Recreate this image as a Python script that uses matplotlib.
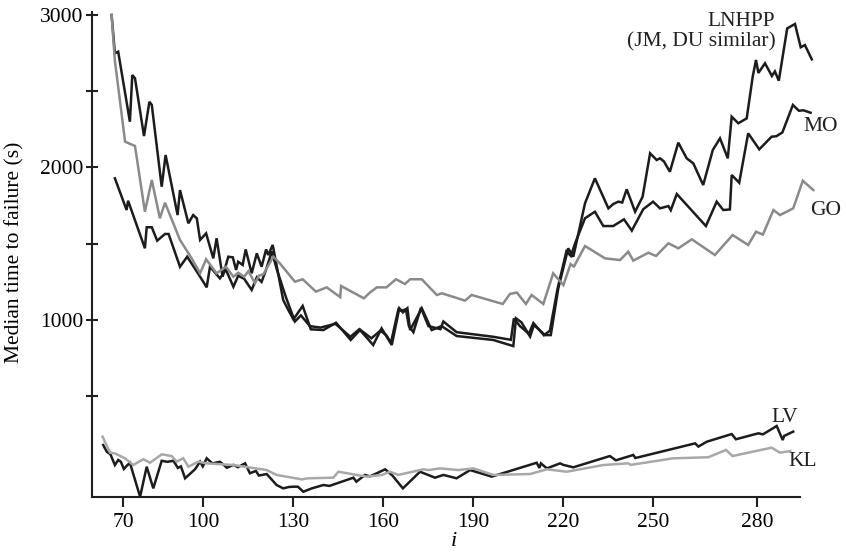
import matplotlib
matplotlib.use("Agg")
import matplotlib.pyplot as plt

# --- data (i, median time to failure) ---
lnhpp_i = [69.4, 70.5, 71.6, 75.5, 76.3, 77.2, 80.2, 82.0, 82.8, 86.1,
           87.4, 91.4, 92.2, 95.0, 96.6, 97.8, 98.9, 100.9, 103.3, 104.4,
           106.4, 108.3, 109.8, 110.9, 111.6, 113.1, 114.1, 116.1, 117.8, 119.4,
           120.9, 121.6, 123.1, 126.6, 128.3, 130.0, 133.1, 135.8, 140.0, 144.2,
           149.1, 152.2, 156.6, 159.4, 162.8, 165.3, 166.5, 168.0, 168.9, 172.8,
           176.1, 179.4, 184.4, 196.6, 203.3, 204.2, 206.0, 208.9, 210.2, 213.9,
           215.8, 218.3, 221.6, 223.3, 227.2, 230.5, 235.0, 236.6, 238.3, 239.6,
           241.1, 243.9, 246.4, 248.9, 251.1, 252.2, 253.5, 255.5, 258.3, 261.1,
           263.3, 266.6, 269.8, 272.2, 274.8, 276.1, 278.3, 281.1, 283.1, 284.2,
           285.0, 287.2, 289.5, 290.5, 291.8, 294.6, 297.2, 299.1, 300.5, 302.8]
lnhpp_t = [3000, 2749, 2759, 2300, 2606, 2585, 2206, 2431, 2410, 1874,
           2082, 1688, 1852, 1634, 1688, 1667, 1525, 1568, 1404, 1536,
           1284, 1415, 1411, 1328, 1382, 1361, 1463, 1306, 1437, 1349,
           1463, 1426, 1492, 1131, 1066, 1004, 1092, 939, 934, 982,
           869, 934, 836, 945, 836, 1077, 1050, 1077, 934, 1077,
           934, 960, 895, 869, 829, 1011, 985, 891, 967, 901,
           901, 1208, 1470, 1415, 1765, 1929, 1732, 1760, 1776, 1770,
           1857, 1710, 1808, 2093, 2049, 2060, 2040, 1972, 2163, 2060,
           2027, 1885, 2115, 2191, 2060, 2333, 2290, 2322, 2595, 2705,
           2620, 2683, 2600, 2630, 2569, 2912, 2941, 2788, 2803, 2709]

mo_i = [70.5, 74.4, 74.9, 80.5, 81.1, 82.8, 84.6, 87.2, 88.4, 92.2,
        94.6, 98.9, 101.1, 102.2, 105.5, 107.5, 110.0, 111.6, 113.6, 116.1,
        117.8, 119.4, 120.9, 122.8, 124.5, 127.5, 130.5, 132.5, 135.5, 139.0,
        144.0, 149.0, 152.0, 156.0, 159.0, 161.0, 162.5, 165.0, 166.0, 167.5,
        168.5, 170.0, 172.5, 175.0, 179.0, 180.0, 184.4, 196.6, 202.5, 203.5,
        205.5, 208.5, 210.0, 213.5, 215.5, 218.0, 221.0, 222.5, 223.9, 227.2,
        230.5, 233.3, 236.6, 240.2, 242.8, 246.6, 249.9, 252.2, 255.0, 255.8,
        257.8, 267.5, 271.1, 273.3, 275.5, 276.1, 278.6, 281.6, 285.3, 289.4,
        291.0, 293.0, 296.5, 298.5, 300.0, 302.4]
mo_t = [1929, 1721, 1782, 1470, 1608, 1608, 1520, 1564, 1564, 1349,
        1415, 1284, 1214, 1349, 1273, 1330, 1218, 1290, 1270, 1197,
        1280, 1250, 1330, 1450, 1330, 1150, 990, 1030, 960, 950,
        975, 890, 940, 880, 930, 900, 850, 1070, 1060, 1070,
        960, 920, 1080, 960, 940, 990, 920, 890, 870, 1010,
        960, 910, 980, 900, 930, 1200, 1450, 1420, 1503, 1667,
        1710, 1616, 1616, 1660, 1586, 1726, 1776, 1732, 1747, 1720,
        1826, 1616, 1776, 1721, 1725, 1951, 1900, 2224, 2119, 2202,
        2205, 2230, 2410, 2372, 2375, 2359]

go_i = [69.4, 70.5, 73.9, 77.2, 80.5, 82.8, 85.5, 87.2, 92.2, 96.1,
        98.9, 100.9, 104.4, 107.5, 110.0, 111.6, 113.6, 115.0, 117.2, 118.5,
        120.0, 123.3, 125.5, 130.5, 133.1, 137.5, 141.1, 145.6, 145.9, 153.5,
        155.5, 157.8, 161.0, 164.2, 167.2, 168.9, 172.8, 177.8, 179.5, 187.2,
        189.4, 199.8, 202.2, 204.5, 207.5, 209.4, 213.3, 216.6, 220.0, 222.4,
        223.5, 227.2, 233.9, 238.9, 241.6, 243.3, 248.3, 250.9, 255.0, 258.3,
        262.8, 270.5, 276.4, 281.6, 284.2, 286.5, 290.0, 292.2, 296.6, 299.8,
        303.3]
go_t = [3000, 2700, 2169, 2141, 1710, 1918, 1667, 1769, 1525, 1404,
        1306, 1398, 1306, 1349, 1284, 1310, 1284, 1320, 1241, 1290,
        1300, 1415, 1371, 1251, 1267, 1186, 1214, 1150, 1223, 1142,
        1180, 1214, 1214, 1267, 1236, 1267, 1267, 1164, 1175, 1127,
        1164, 1105, 1171, 1180, 1105, 1164, 1105, 1306, 1229, 1367,
        1350, 1485, 1404, 1393, 1448, 1389, 1441, 1420, 1503, 1470,
        1529, 1426, 1557, 1492, 1579, 1560, 1721, 1688, 1732, 1913,
        1852]

lv_i = [66.6, 67.8, 69.0, 70.5, 71.6, 72.5, 73.5, 74.5, 75.5, 78.9,
        81.1, 83.3, 86.1, 88.0, 90.0, 91.5, 92.5, 93.9, 97.2, 98.9,
        99.8, 101.1, 103.0, 105.5, 106.5, 107.8, 110.0, 111.5, 113.9, 115.5,
        117.5, 118.5, 121.1, 124.4, 126.6, 128.5, 130.0, 131.5, 133.3, 136.0,
        140.0, 142.0, 150.0, 151.0, 153.9, 155.5, 157.8, 160.6, 163.0, 166.5,
        172.2, 177.2, 180.0, 184.4, 188.9, 196.1, 211.1, 212.0, 212.5, 214.5,
        218.9, 220.0, 223.3, 235.5, 237.5, 243.3, 244.0, 263.9, 265.0, 267.8,
        276.1, 277.5, 285.0, 286.5, 291.1, 293.1, 293.6, 296.6]
lv_t = [180, 136, 120, 49, 82, 70, 23, 45, 64, -159,
        38, -104, 77, 70, 77, 30, 40, -38, 21, 71,
        40, 93, 60, 70, 55, 31, 50, 35, 60, -5,
        10, -20, -10, -82, -104, -95, -93, -93, -126, -105,
        -82, -88, -34, -60, -16, -25, -5, 21, -20, -104,
        5, -34, -16, -38, 16, -27, 64, 30, 60, 27,
        60, 50, 34, 108, 80, 115, 95, 191, 170, 202,
        252, 218, 257, 250, 305, 213, 240, 268]

kl_i = [66.4, 68.9, 70.5, 73.9, 76.6, 80.0, 82.2, 86.1, 89.4, 91.1,
        93.3, 95.0, 98.3, 101.0, 110.0, 121.1, 124.4, 132.8, 135.0, 143.3,
        145.0, 154.4, 159.5, 162.2, 165.0, 173.3, 175.0, 178.9, 185.0, 190.0,
        196.6, 208.9, 214.5, 221.1, 233.3, 241.6, 242.5, 256.6, 268.3, 274.2,
        276.4, 289.4, 292.2, 295.6]
kl_t = [235, 130, 125, 93, 49, 87, 64, 119, 108, 71,
        93, 38, 71, 60, 49, 16, -16, -45, -38, -34,
        5, -27, -16, 5, -16, 21, 16, 27, 16, 27,
        -16, -10, 21, 5, 49, 60, 50, 93, 100, 148,
        108, 163, 130, 141]

xtick_labels = ["70", "100", "130", "160", "190", "220", "250", "280"]
ytick_labels = ["", "1000", "", "2000", "", "3000"]

plt.rcParams['font.family'] = ['Liberation Serif', 'DejaVu Serif']

black = '#1c1c1c'
fig = plt.figure(figsize=(8.46, 5.55), dpi=100)
ax = fig.add_axes([92/846, 57.7/555, 724/846, 485.3/555])

ax.plot(lnhpp_i, lnhpp_t, color=black, lw=1.8, solid_joinstyle='miter')
ax.plot(mo_i, mo_t, color=black, lw=1.8, solid_joinstyle='miter')
ax.plot(go_i, go_t, color='#8a8a8a', lw=1.8, solid_joinstyle='miter')
ax.plot(lv_i, lv_t, color=black, lw=1.8, solid_joinstyle='miter')
ax.plot(kl_i, kl_t, color='#a8a8a8', lw=1.8, solid_joinstyle='miter')

ax.set_xlim(62.87, 304.2)
ax.set_ylim(-162.6, 3019.5)

for s in ['top', 'right']:
    ax.spines[s].set_visible(False)
for s in ['left', 'bottom']:
    ax.spines[s].set_linewidth(1.5)
    ax.spines[s].set_color('#231f20')
ax.spines['bottom'].set_bounds(62.87, 298.9)

# tick marks sit where the reference puts them
ax.set_xticks([73.3, 100, 130, 160, 190, 220, 250, 284.6], xtick_labels)
ax.set_yticks([500, 1000, 1500, 2000, 2500, 3000], ytick_labels)
ax.tick_params(axis='x', direction='out', length=7.5, width=1.5,
               color='#231f20', labelsize=15.5, pad=4)
ax.tick_params(axis='y', direction='inout', length=9, width=1.5,
               color='#231f20', labelsize=15.5, pad=2)

fig.text(14.5/846, 1 - 252/555, 'Median time to failure (s)', rotation=90,
         ha='center', va='center', fontsize=15.5)
ax.set_xlabel('i', fontsize=16, style='italic', labelpad=0)

lab = dict(fontsize=15.5, color='#231f20')
ax.text(290.5, 2956, 'LNHPP', ha='right', va='center', **lab)
ax.text(290.9, 2825, '(JM, DU similar)', ha='right', va='center', **lab)
ax.text(299.9, 2272, 'MO', ha='left', va='center', **lab)
ax.text(302.2, 1715, 'GO', ha='left', va='center', **lab)
ax.text(289.4, 362, 'LV', ha='left', va='center', **lab)
ax.text(294.9, 69, 'KL', ha='left', va='center', **lab)

fig.savefig('out.png', dpi=100)
